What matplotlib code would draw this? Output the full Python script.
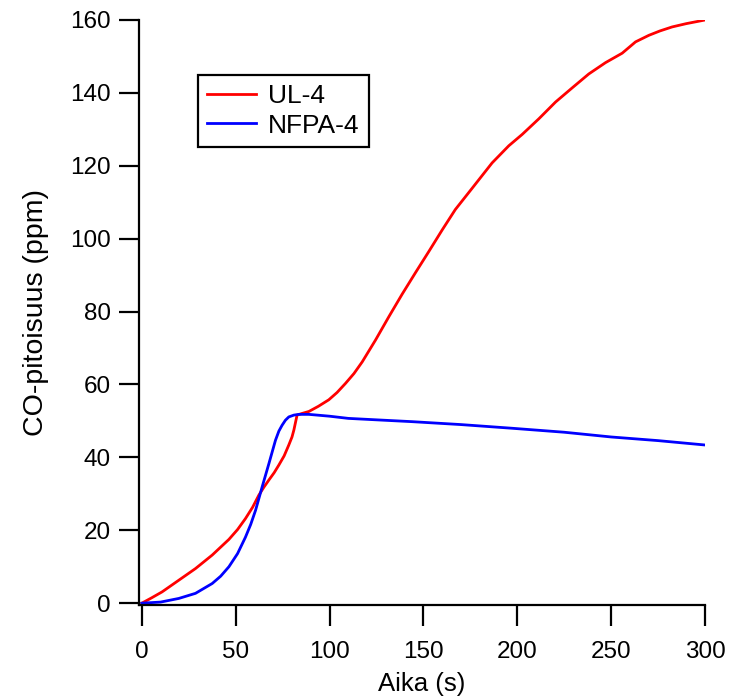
import matplotlib
matplotlib.use("Agg")
import matplotlib.pyplot as plt

# ---- data ----
ul4_time = [0, 5, 10.8, 19.7, 28.6, 37.5, 46.4, 51, 55.2, 59, 62.3, 65, 67.7, 70.5, 73,
            75.8, 78.3, 80, 81, 82.7, 85, 89, 94, 99.6, 104, 108.5, 113, 117.4, 124.5,
            131.6, 138.7, 145.8, 152.9, 160, 167, 175.9, 186.6, 195.5, 202.6, 211.5,
            220.4, 229.3, 238.1, 247, 255.9, 263, 270.1, 276, 282.5, 290, 300]
ul4_co = [0, 1.4, 3.1, 6.3, 9.5, 13.2, 17.5, 20.2, 23.2, 26.3, 29.6, 31.8, 33.8, 35.8, 37.9,
          40.4, 43.4, 45.6, 47.5, 51.6, 52.0, 52.6, 54.0, 55.8, 57.8, 60.3, 63.0, 66.2,
          72.2, 78.6, 84.8, 90.7, 96.5, 102.4, 108.0, 113.8, 120.8, 125.5, 128.6,
          132.9, 137.5, 141.4, 145.2, 148.3, 150.9, 154.0, 155.8, 157.0, 158.1, 159.0,
          160.0]

nfpa4_time = [0, 10, 19.7, 28.6, 37.5, 42, 46.4, 51, 55.2, 58, 60.6, 64.1, 67.7, 71.2,
              73, 74.7, 76.5, 78.3, 81, 83.6, 89, 100, 110, 125, 144, 170, 197, 225,
              250, 275, 300]
nfpa4_co = [0, 0.3, 1.3, 2.7, 5.4, 7.4, 10.0, 13.6, 18.1, 21.6, 25.5, 31.9, 38.3, 44.7,
            47.2, 48.8, 50.2, 51.1, 51.6, 51.8, 51.8, 51.3, 50.7, 50.3, 49.8, 49.0,
            48.0, 46.9, 45.6, 44.6, 43.4]

series_labels = ["UL-4", "NFPA-4"]
x_label = "Aika (s)"
y_label = "CO-pitoisuus (ppm)"
x_ticks = [0, 50, 100, 150, 200, 250, 300]
y_ticks = [0, 20, 40, 60, 80, 100, 120, 140, 160]

plt.rcParams["font.family"] = ["Liberation Sans", "DejaVu Sans"]

W, H = 729, 699
fig = plt.figure(figsize=(W / 100, H / 100), dpi=100)
ax = fig.add_axes([139 / W, 1 - 605 / H, (705 - 139) / W, (605 - 20) / H])

ax.plot(ul4_time, ul4_co, color="#ff0000", lw=2.0, label=series_labels[0])
ax.plot(nfpa4_time, nfpa4_co, color="#0000ff", lw=2.0, label=series_labels[1])

ax.set_xlim(-1.5, 300)
ax.set_ylim(-0.5, 160)
ax.set_xticks(x_ticks)
ax.set_yticks(y_ticks)

for s in ["top", "right"]:
    ax.spines[s].set_visible(False)
for s in ["left", "bottom"]:
    ax.spines[s].set_linewidth(1.6)

ax.tick_params(axis="y", direction="out", length=14.5, width=1.6, pad=6,
               labelsize=17.5)
ax.tick_params(axis="x", direction="out", length=15, width=1.6, pad=11,
               labelsize=17.5)

ax.set_xlabel(x_label, fontsize=18.5, labelpad=6.5)
ax.set_ylabel(y_label, fontsize=20.5, labelpad=15)

leg = ax.legend(loc="upper left", bbox_to_anchor=(198 / W, 1 - 75 / H),
                bbox_transform=fig.transFigure, borderaxespad=0,
                fontsize=19, frameon=True, fancybox=False, framealpha=1,
                edgecolor="black", handlelength=1.85, handletextpad=0.45,
                labelspacing=0.2, borderpad=0.35)
leg.get_frame().set_linewidth(1.6)

fig.savefig("out.png", dpi=100)
